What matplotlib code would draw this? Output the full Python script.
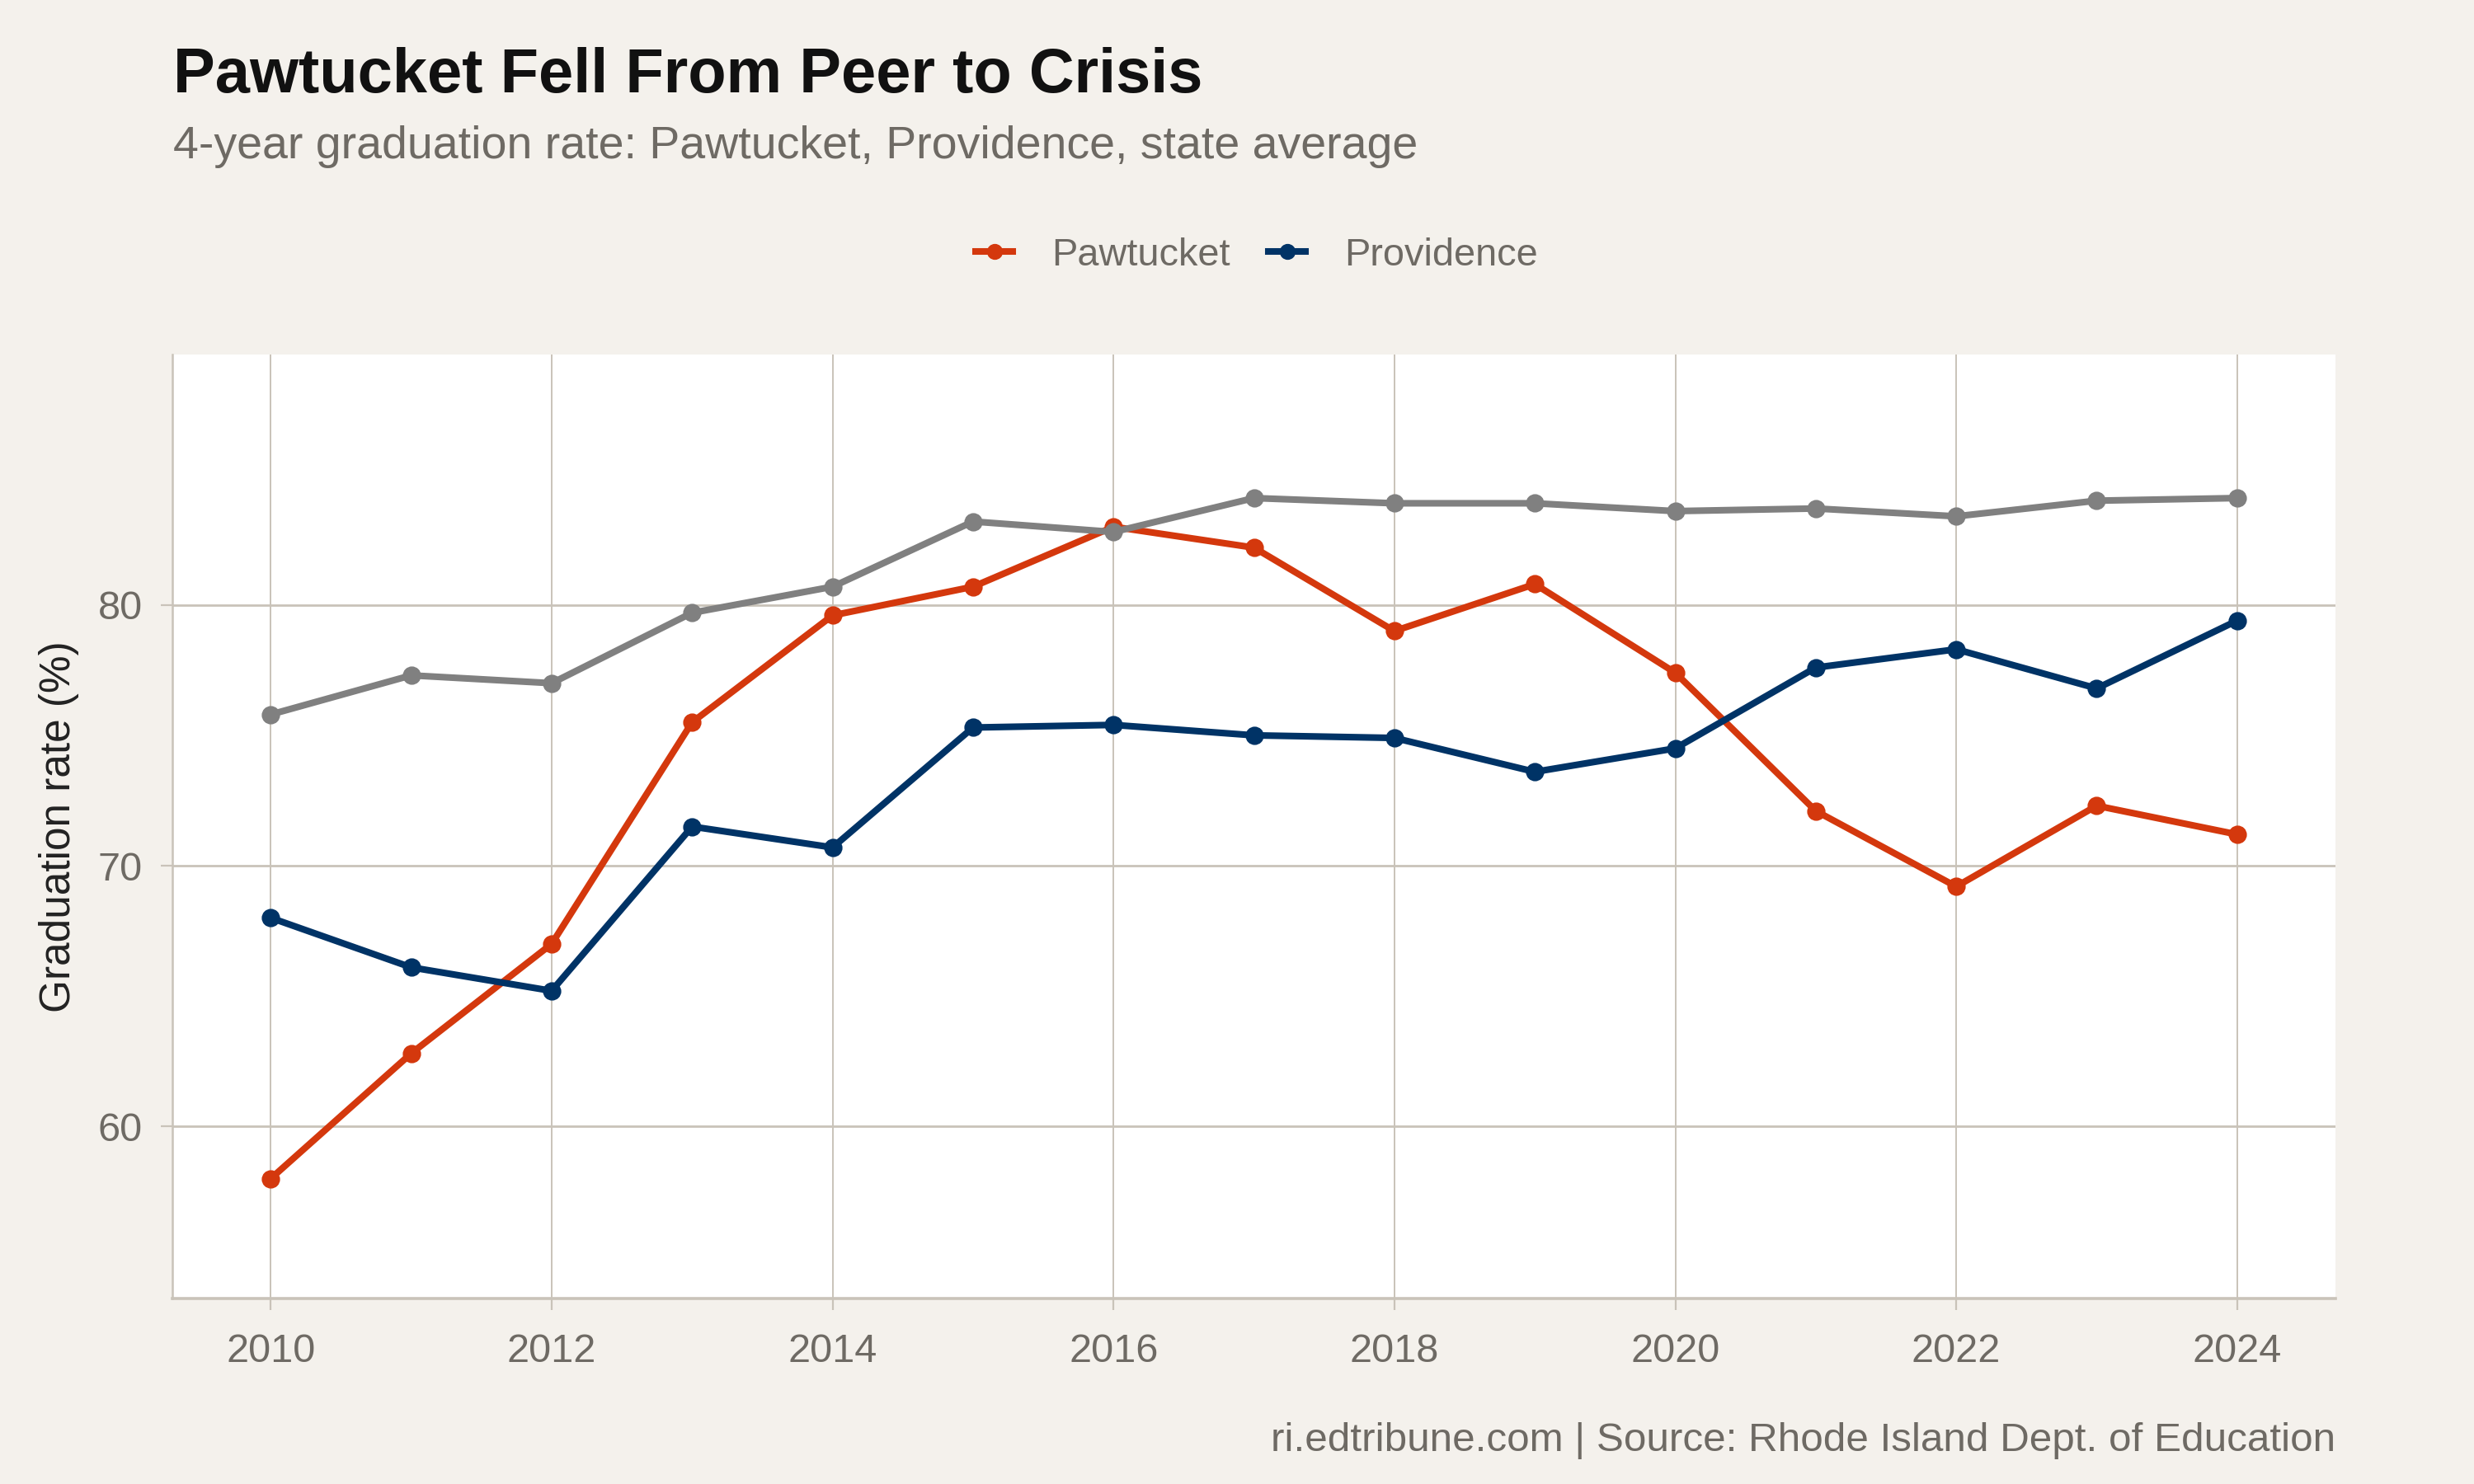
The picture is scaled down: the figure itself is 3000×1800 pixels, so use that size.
import matplotlib
matplotlib.use("Agg")
import matplotlib.pyplot as plt

plt.rcParams['font.family'] = ['Liberation Sans', 'DejaVu Sans']

# data
years = list(range(2010, 2025))
pawtucket = [58.0, 62.8, 67.0, 75.5, 79.6, 80.7, 83.0, 82.2, 79.0, 80.8, 77.4, 72.1, 69.2, 72.3, 71.2]
providence = [68.0, 66.1, 65.2, 71.5, 70.7, 75.3, 75.4, 75.0, 74.9, 73.6, 74.5, 77.6, 78.3, 76.8, 79.4]
state_avg = [75.8, 77.3, 77.0, 79.7, 80.7, 83.2, 82.8, 84.1, 83.9, 83.9, 83.6, 83.7, 83.4, 84.0, 84.1]

x_ticks = [2010, 2012, 2014, 2016, 2018, 2020, 2022, 2024]
y_ticks = [60, 70, 80]

bg = "#F4F1EC"
grid_col = "#C9C3B9"
text_grey = "#6E6A64"
col_paw = "#D4380D"
col_prov = "#003366"
col_state = "#808080"

fig = plt.figure(figsize=(15, 9), dpi=200, facecolor=bg)
ax = fig.add_axes([0.0697, 0.125, 0.8743, 0.636])
ax.set_facecolor("white")

ax.plot(years, pawtucket, color=col_paw, lw=2.9, marker='o', ms=7, label="Pawtucket", zorder=3)
ax.plot(years, providence, color=col_prov, lw=2.9, marker='o', ms=7, label="Providence", zorder=3)
ax.plot(years, state_avg, color=col_state, lw=2.9, marker='o', ms=7, zorder=4)

ax.set_xlim(2009.3, 2024.7)
ax.set_ylim(53.4, 89.6)
ax.set_xticks(x_ticks)
ax.set_yticks(y_ticks)

ax.grid(axis='y', color=grid_col, lw=1.0)
ax.grid(axis='x', color=grid_col, lw=0.7)
ax.set_axisbelow(True)

for s in ['top', 'right']:
    ax.spines[s].set_visible(False)
ax.spines['left'].set_color(grid_col)
ax.spines['left'].set_linewidth(0.9)
ax.spines['bottom'].set_color(grid_col)
ax.spines['bottom'].set_linewidth(1.3)

ax.tick_params(axis='both', colors=grid_col, length=5, width=0.8,
               labelcolor=text_grey, labelsize=17.5)
ax.tick_params(axis='x', pad=10)
ax.tick_params(axis='y', pad=8)

fig.text(0.0237, 0.443, "Graduation rate (%)", rotation=90, ha='center', va='center',
         fontsize=18.5, color="#222222")

fig.text(0.07, 0.9378, "Pawtucket Fell From Peer to Crisis", fontsize=27.3,
         fontweight='bold', color="#111111", va='baseline', ha='left')
fig.text(0.07, 0.8933, "4-year graduation rate: Pawtucket, Providence, state average",
         fontsize=20, color=text_grey, va='baseline', ha='left')
fig.text(0.944, 0.0222, "ri.edtribune.com | Source: Rhode Island Dept. of Education",
         fontsize=17.8, color=text_grey, va='baseline', ha='right')

leg = fig.legend(loc='center', bbox_to_anchor=(0.508, 0.828), ncol=2, frameon=False,
                 fontsize=16.9, handlelength=0.95, handletextpad=1.0, columnspacing=1.0,
                 markerscale=0.85)
for t in leg.get_texts():
    t.set_color(text_grey)

fig.savefig("out.png", dpi=200, facecolor=bg)
